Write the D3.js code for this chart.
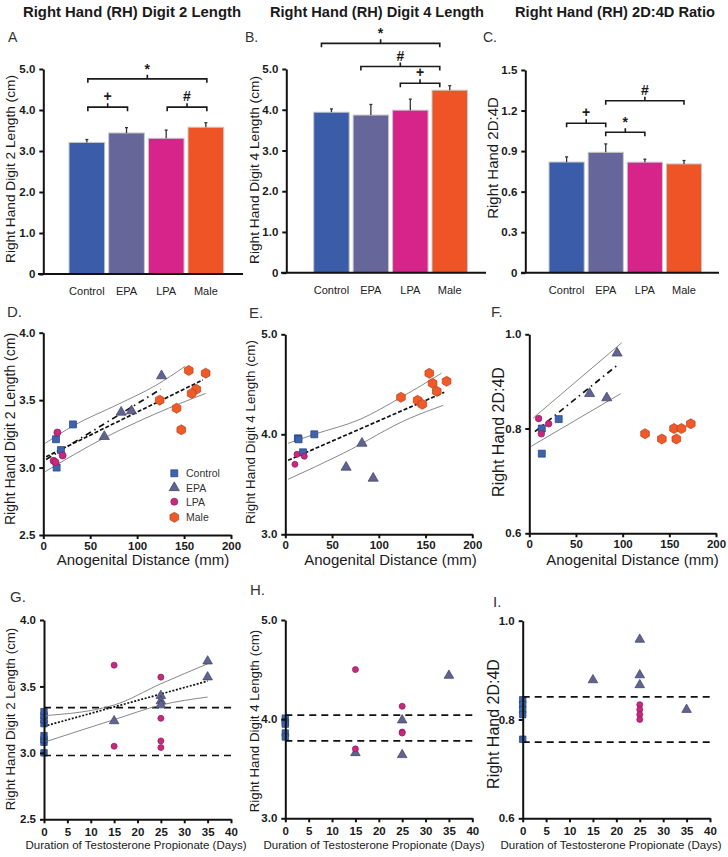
<!DOCTYPE html>
<html><head><meta charset="utf-8">
<script src="https://cdn.jsdelivr.net/npm/d3@7"></script>
<style>body{margin:0;background:#fff}svg{display:block}</style>
</head><body><svg id="c" width="728" height="857"></svg>
<script>
// ---------------- DATA ----------------
const categories = ["Control", "EPA", "LPA", "Male"];
const groupColors = ["#3a5ca9", "#66669a", "#d6248b", "#ee5426"];

// Bar panels (mean, SEM)
const digit2Mean = [3.21, 3.44, 3.31, 3.58];
const digit2Sem  = [0.07, 0.13, 0.20, 0.11];
const digit4Mean = [3.94, 3.87, 3.99, 4.48];
const digit4Sem  = [0.08, 0.26, 0.27, 0.11];
const ratioMean  = [0.819, 0.891, 0.818, 0.805];
const ratioSem   = [0.038, 0.062, 0.022, 0.025];

const digit2Ticks = [0, 1, 2, 3, 4, 5];
const digit4Ticks = [0, 1, 2, 3, 4, 5];
const ratioTicks  = [0, 0.3, 0.6, 0.9, 1.2, 1.5];

// significance brackets (y in data units)
const bracketsA = [
  {from: "Control", to: "Male", label: "*", y: 4.76},
  {from: "Control", to: "EPA", label: "+", y: 4.07},
  {from: "LPA", to: "Male", label: "#", y: 4.07}
];
const bracketsB = [
  {from: "Control", to: "Male", label: "*", y: 5.63},
  {from: "EPA", to: "Male", label: "#", y: 5.06},
  {from: "LPA", to: "Male", label: "+", y: 4.65}
];
const bracketsC = [
  {from: "Control", to: "EPA", label: "+", y: 1.106},
  {from: "EPA", to: "LPA", label: "*", y: 1.039},
  {from: "EPA", to: "Male", label: "#", y: 1.273}
];

// Panel D: AGD (mm) vs digit 2 (cm)
const dControl = [[13.5,3.21],[31.6,3.32],[18.8,3.13],[14.2,3.00]];
const dEPA     = [[126,3.68],[83,3.41],[94,3.42],[65,3.23]];
const dLPA     = [[15,3.26],[20.6,3.09],[11,3.05],[13,3.04]];
const dMale    = [[155,3.72],[173,3.70],[163,3.58],[158,3.55],[124,3.50],[142,3.44],[147,3.28]];
const dFit     = [[3,3.08],[170,3.65]];
const dFitFem  = [[3,3.06],[125,3.58]];
const dUpper   = [[2,3.18],[32,3.31],[80,3.47],[120,3.61],[151,3.75]];
const dLower   = [[2,2.97],[65,3.22],[120,3.40],[173,3.55]];

// Panel E: AGD vs digit 4
const eControl = [[13.5,3.96],[14.2,3.95],[31,4.00],[18.9,3.82]];
const eEPA     = [[82,3.91],[65,3.67],[94,3.56]];
const eLPA     = [[10.3,3.70],[12.5,3.80],[20.3,3.78]];
const eMale    = [[154,4.61],[157.5,4.51],[172.5,4.53],[162,4.43],[123.7,4.37],[141.5,4.34],[146.5,4.30]];
const eFit     = [[3,3.74],[170,4.42]];
const eUpper   = [[3,3.91],[31,4.00],[80,4.15],[124,4.37],[167,4.61]];
const eLower   = [[3,3.55],[62,3.81],[133,4.16],[169,4.29]];

// Panel F: AGD vs 2D:4D
const fControl = [[13.4,0.80],[31.5,0.82],[13.4,0.752]];
const fEPA     = [[94,0.96],[64.6,0.874],[83,0.865]];
const fLPA     = [[10,0.821],[20.7,0.81],[12.9,0.79]];
const fMale    = [[124,0.79],[142,0.78],[155,0.80],[163,0.80],[157.5,0.78],[173,0.81]];
const fFit     = [[6,0.794],[94,0.934]];
const fUpper   = [[4,0.822],[99,0.982]];
const fLower   = [[2,0.766],[98,0.874]];

// Panel G: TP duration (days) vs digit 2
const gControl = [[0,3.00],[0,3.08],[0,3.10],[0,3.13],[0,3.22],[0,3.25],[0,3.28],[0,3.31]];
const gLPA     = [[15,3.66],[15,3.05],[25,3.57],[25,3.26],[25,3.09],[25,3.04]];
const gEPA     = [[15,3.24],[25,3.43],[25,3.39],[25,3.36],[35,3.69],[35,3.57]];
const gFit     = [[0,3.20],[35,3.54]];
const gUpper   = [[0,3.28],[15,3.36],[25,3.52],[35,3.67]];
const gLower   = [[0,3.08],[15,3.25],[25,3.36],[35,3.42]];
const gRefHigh = [[0,3.34],[40,3.34]];
const gRefLow  = [[0,2.98],[40,2.98]];

// Panel H: TP duration vs digit 4
const hControl = [[0,4.01],[0,3.97],[0,3.95],[0,3.86],[0,3.82]];
const hLPA     = [[15,4.50],[15,3.70],[25,4.13],[25,3.87],[25,3.86]];
const hEPA     = [[15,3.66],[25,3.99],[25,3.64],[35,4.44]];
const hRefHigh = [[0,4.04],[40,4.04]];
const hRefLow  = [[0,3.78],[40,3.78]];

// Panel I: TP duration vs 2D:4D
const iControl = [[0,0.84],[0,0.83],[0,0.82],[0,0.81],[0,0.76]];
const iEPA     = [[15,0.88],[25,0.962],[25,0.89],[25,0.87],[35,0.82]];
const iLPA     = [[25,0.83],[25,0.82],[25,0.81],[25,0.80]];
const iRefHigh = [[0,0.846],[40,0.846]];
const iRefLow  = [[0,0.754],[40,0.754]];

const agdTicks = [0, 50, 100, 150, 200];
const dayTicks = [0, 5, 10, 15, 20, 25, 30, 35, 40];

// ---------------- DRAWING ----------------
const FONT = '"Liberation Sans", Arial, Helvetica, sans-serif';
const svg = d3.select("#c");
const fmt = d => d === 0 ? "0" : d3.format(".1f")(d);

function styleAxis(sel, fs) {
  sel.attr("font-family", FONT).attr("font-size", fs).attr("font-weight", "bold");
  sel.select(".domain").attr("stroke", "#111").attr("stroke-width", 2);
  sel.selectAll(".tick line").attr("stroke", "#111").attr("stroke-width", 2);
  sel.selectAll(".tick text").attr("fill", "#1a1a1a");
}

function text(x, y, str, opts = {}) {
  const t = svg.append("text").attr("x", x).attr("y", y).text(str)
    .attr("font-family", FONT).attr("font-size", opts.size || 14)
    .attr("font-weight", opts.weight || "normal").attr("fill", opts.fill || "#1a1a1a")
    .attr("text-anchor", opts.anchor || "start");
  if (opts.len) t.attr("textLength", opts.len).attr("lengthAdjust", "spacingAndGlyphs");
  return t;
}
function vtext(cx, cy, str, size) {
  svg.append("text").attr("transform", `translate(${cx},${cy}) rotate(-90)`)
    .attr("text-anchor", "middle").attr("dominant-baseline", "central")
    .attr("font-family", FONT).attr("font-size", size).attr("fill", "#1a1a1a").text(str);
}

function barPanel(cfg) {
  const y = d3.scaleLinear().domain([0, cfg.ticks[cfg.ticks.length - 1]]).range([cfg.yBot, cfg.yTop]);
  const x = d3.scaleBand().domain(categories).range([cfg.bx0, cfg.bx1]).paddingInner(0.1).paddingOuter(0);
  const g = svg.append("g");
  g.selectAll("rect.bar").data(categories).join("rect").attr("class", "bar")
    .attr("x", c => x(c)).attr("width", x.bandwidth())
    .attr("y", (c, i) => y(cfg.mean[i])).attr("height", (c, i) => y(0) - y(cfg.mean[i]))
    .attr("fill", (c, i) => groupColors[i]).attr("stroke", "#c9c9c9").attr("stroke-width", 1);
  const eb = g.selectAll("g.err").data(categories).join("g").attr("class", "err");
  eb.append("line").attr("x1", c => x(c) + x.bandwidth() / 2).attr("x2", c => x(c) + x.bandwidth() / 2)
    .attr("y1", (c, i) => y(cfg.mean[i])).attr("y2", (c, i) => y(cfg.mean[i] + cfg.sem[i]))
    .attr("stroke", "#333").attr("stroke-width", 1.3);
  eb.append("line").attr("x1", c => x(c) + x.bandwidth() / 2 - 1.5).attr("x2", c => x(c) + x.bandwidth() / 2 + 1.5)
    .attr("y1", (c, i) => y(cfg.mean[i] + cfg.sem[i])).attr("y2", (c, i) => y(cfg.mean[i] + cfg.sem[i]))
    .attr("stroke", "#333").attr("stroke-width", 1.3);
  const ya = g.append("g").attr("transform", `translate(${cfg.ax},0)`)
    .call(d3.axisLeft(y).tickValues(cfg.ticks).tickSize(4).tickSizeOuter(0).tickPadding(4).tickFormat(fmt));
  styleAxis(ya, 11.5);
  g.append("line").attr("x1", cfg.xl0).attr("x2", cfg.xl1).attr("y1", y(0)).attr("y2", y(0))
    .attr("stroke", "#111").attr("stroke-width", 2);
  g.selectAll("text.cat").data(categories).join("text").attr("class", "cat")
    .attr("x", c => x(c) + x.bandwidth() / 2).attr("y", cfg.yBot + 21).attr("text-anchor", "middle")
    .attr("font-family", FONT).attr("font-size", 11).attr("fill", "#222").text(c => c);
  cfg.brackets.forEach(b => {
    const xa = x(b.from) + x.bandwidth() / 2 + cfg.shift;
    const xb = x(b.to) + x.bandwidth() / 2 + cfg.shift;
    const yy = y(b.y), xm = (xa + xb) / 2;
    g.append("path").attr("d", `M${xa},${yy + cfg.drop}V${yy}H${xb}V${yy + cfg.drop}M${xm},${yy}V${yy - 4}`)
      .attr("fill", "none").attr("stroke", "#1a1a1a").attr("stroke-width", 1.6);
    g.append("text").attr("x", xm).attr("y", yy - 6 + (b.label === "*" ? 1 : 0)).attr("text-anchor", "middle")
      .attr("font-family", FONT).attr("font-weight", "bold").attr("font-size", 14).attr("fill", "#1a1a1a").text(b.label);
  });
}

barPanel({mean: digit2Mean, sem: digit2Sem, ticks: digit2Ticks, yBot: 274, yTop: 69, bx0: 69, bx1: 223.7,
  ax: 43.3, xl0: 38, xl1: 243, brackets: bracketsA, shift: 1, drop: 4});
barPanel({mean: digit4Mean, sem: digit4Sem, ticks: digit4Ticks, yBot: 272.7, yTop: 69, bx0: 313.7, bx1: 467.5,
  ax: 286.3, xl0: 281, xl1: 486, brackets: bracketsB, shift: -10, drop: 4});
barPanel({mean: ratioMean, sem: ratioSem, ticks: ratioTicks, yBot: 272.7, yTop: 70, bx0: 549, bx1: 701.6,
  ax: 525.3, xl0: 521, xl1: 719, brackets: bracketsC, shift: 0, drop: 4});

const hexPath = r => {
  const p = d3.range(6).map(k => { const a = Math.PI / 6 + k * Math.PI / 3; return [r * Math.cos(a), r * Math.sin(a)]; });
  return "M" + p.map(q => q.join(",")).join("L") + "Z";
};
const markerStyles = {
  square:   {d: s => d3.symbol(d3.symbolSquare, s * s)(), fill: "#3e63ad", stroke: "#22407c"},
  triangle: {d: s => d3.symbol(d3.symbolTriangle, s * s * 0.55)(), fill: "#62648f", stroke: "#3c3e66"},
  circle:   {d: s => d3.symbol(d3.symbolCircle, s * s * 0.8)(), fill: "#c8287f", stroke: "#8c1c5a"},
  hex:      {d: s => hexPath(s / 2), fill: "#ef5a28", stroke: "#b5421c"}
};
const lineStyles = {
  fit:     {stroke: "#111", width: 1.7, dash: "4,2"},
  dashdot: {stroke: "#111", width: 1.7, dash: "6,4,1.5,4"},
  dotted:  {stroke: "#111", width: 1.7, dash: "2,1.6"},
  band:    {stroke: "#7a7a7a", width: 0.9, dash: null},
  ref:     {stroke: "#111", width: 1.7, dash: "7,5"}
};

function scatterPanel(cfg) {
  const x = d3.scaleLinear().domain(cfg.xDomain).range(cfg.xRange);
  const y = d3.scaleLinear().domain(cfg.yDomain).range(cfg.yRange);
  const g = svg.append("g");
  const line = d3.line().x(d => x(d[0])).y(d => y(d[1])).curve(d3.curveMonotoneX);
  const drawPts = grp => {
    const st = markerStyles[grp.shape];
    g.append("g").selectAll("path").data(grp.pts).join("path")
      .attr("transform", d => `translate(${x(d[0])},${y(d[1])})`)
      .attr("d", st.d(grp.size)).attr("fill", st.fill).attr("stroke", st.stroke).attr("stroke-width", 0.7);
  };
  (cfg.under || []).forEach(drawPts);
  cfg.lines.forEach(l => {
    const s = lineStyles[l.style];
    g.append("path").attr("d", line(l.pts)).attr("fill", "none").attr("stroke", s.stroke)
      .attr("stroke-width", s.width).attr("stroke-dasharray", s.dash);
  });
  cfg.groups.forEach(drawPts);
  const ya = g.append("g").attr("transform", `translate(${cfg.xRange[0]},0)`)
    .call(d3.axisLeft(y).tickValues(cfg.yTicks).tickSize(4).tickSizeOuter(0).tickPadding(4).tickFormat(fmt));
  styleAxis(ya, 11.5);
  const xa = g.append("g").attr("transform", `translate(0,${cfg.yRange[0]})`)
    .call(d3.axisBottom(x).tickValues(cfg.xTicks).tickSize(4).tickSizeOuter(0).tickPadding(cfg.xPad || 3));
  styleAxis(xa, 11.5);
}

scatterPanel({xDomain: [0, 200], xRange: [43.3, 231], yDomain: [2.5, 4.0], yRange: [535, 332.7],
  xTicks: agdTicks, yTicks: [2.5, 3.0, 3.5, 4.0],
  lines: [{pts: dUpper, style: "band"}, {pts: dLower, style: "band"}, {pts: dFit, style: "fit"}, {pts: dFitFem, style: "dashdot"}],
  groups: [{pts: dControl, shape: "square", size: 7}, {pts: dEPA, shape: "triangle", size: 9},
           {pts: dLPA, shape: "circle", size: 7}, {pts: dMale, shape: "hex", size: 10}]});
scatterPanel({xDomain: [0, 200], xRange: [285.3, 472.3], yDomain: [3.0, 5.0], yRange: [534.3, 334.3],
  xTicks: agdTicks, yTicks: [3.0, 4.0, 5.0],
  lines: [{pts: eUpper, style: "band"}, {pts: eLower, style: "band"}, {pts: eFit, style: "fit"}],
  groups: [{pts: eControl, shape: "square", size: 7}, {pts: eEPA, shape: "triangle", size: 9},
           {pts: eLPA, shape: "circle", size: 6}, {pts: eMale, shape: "hex", size: 10}]});
scatterPanel({xDomain: [0, 200], xRange: [529.3, 716], yDomain: [0.6, 0.8, 1.0], yRange: [533.3, 428.5, 334.3],
  xTicks: agdTicks, yTicks: [0.6, 0.8, 1.0],
  lines: [{pts: fUpper, style: "band"}, {pts: fLower, style: "band"}, {pts: fFit, style: "dashdot"}],
  groups: [{pts: fControl, shape: "square", size: 7}, {pts: fEPA, shape: "triangle", size: 9},
           {pts: fLPA, shape: "circle", size: 6.5}, {pts: fMale, shape: "hex", size: 10}]});
scatterPanel({xDomain: [0, 40], xRange: [44, 231], yDomain: [2.5, 4.0], yRange: [819.3, 620],
  xTicks: dayTicks, yTicks: [2.5, 3.0, 3.5, 4.0], xPad: 5,
  under: [{pts: gControl, shape: "square", size: 6.5}],
  lines: [{pts: gRefHigh, style: "ref"}, {pts: gRefLow, style: "ref"}, {pts: gUpper, style: "band"},
          {pts: gLower, style: "band"}, {pts: gFit, style: "dotted"}],
  groups: [{pts: gLPA, shape: "circle", size: 6}, {pts: gEPA, shape: "triangle", size: 8.5}]});
scatterPanel({xDomain: [0, 40], xRange: [285.3, 472.3], yDomain: [3.0, 5.0], yRange: [818.3, 620],
  xTicks: dayTicks, yTicks: [3.0, 4.0, 5.0], xPad: 5,
  under: [{pts: hControl, shape: "square", size: 6.5}],
  lines: [{pts: hRefHigh, style: "ref"}, {pts: hRefLow, style: "ref"}],
  groups: [{pts: hEPA, shape: "triangle", size: 8.5}, {pts: hLPA, shape: "circle", size: 6}]});
scatterPanel({xDomain: [0, 40], xRange: [522.7, 710], yDomain: [0.6, 1.0], yRange: [818.3, 620.7],
  xTicks: dayTicks, yTicks: [0.6, 0.8, 1.0], xPad: 5,
  under: [{pts: iControl, shape: "square", size: 6.5}],
  lines: [{pts: iRefHigh, style: "ref"}, {pts: iRefLow, style: "ref"}],
  groups: [{pts: iEPA, shape: "triangle", size: 8.5}, {pts: iLPA, shape: "circle", size: 6}]});

// Legend (panel D)
const legendItems = [["Control", "square", 7], ["EPA", "triangle", 9], ["LPA", "circle", 7], ["Male", "hex", 10]];
const legendY = [473.3, 487.7, 501.7, 517.3];
legendItems.forEach((it, i) => {
  const st = markerStyles[it[1]];
  svg.append("path").attr("transform", `translate(174.3,${legendY[i]})`).attr("d", st.d(it[2]))
    .attr("fill", st.fill).attr("stroke", st.stroke).attr("stroke-width", 0.7);
  text(186, legendY[i] + 4, it[0], {size: 10.5, fill: "#333"});
});

// Titles
text(132, 17, "Right Hand (RH) Digit 2 Length", {size: 15, weight: "bold", anchor: "middle", len: 218});
text(377, 17, "Right Hand (RH) Digit 4 Length", {size: 15, weight: "bold", anchor: "middle", len: 214});
text(615, 17, "Right Hand (RH) 2D:4D Ratio", {size: 15, weight: "bold", anchor: "middle", len: 200});

// Panel letters
text(8, 42, "A", {size: 14, fill: "#333"});
text(245, 42, "B.", {size: 14, fill: "#333"});
text(483, 42, "C.", {size: 14, fill: "#333"});
text(7, 317, "D.", {size: 15, fill: "#333"});
text(249, 318, "E.", {size: 15, fill: "#333"});
text(491, 317, "F.", {size: 15, fill: "#333"});
text(10, 602, "G.", {size: 15, fill: "#333"});
text(250, 595, "H.", {size: 15, fill: "#333"});
text(493, 607, "I.", {size: 15, fill: "#333"});

// Y-axis labels
vtext(10, 169, "Right Hand Digit 2 Length (cm)", 13.7);
vtext(254, 170, "Right Hand Digit 4 Length (cm)", 13.7);
vtext(492, 158, "Right Hand 2D:4D", 15);
vtext(9.5, 429, "Right Hand Digit 2 Length (cm)", 14);
vtext(250.5, 432, "Right Hand Digit 4 Length (cm)", 13.4);
vtext(498.5, 432, "Right Hand 2D:4D", 16);
vtext(10, 719, "Right Hand Digit 2 Length (cm)", 13.3);
vtext(254, 721, "Right Hand Digit 4 Length (cm)", 13.3);
vtext(493.5, 724, "Right Hand 2D:4D", 16);

// X-axis labels
text(143, 565, "Anogenital Distance (mm)", {size: 15, anchor: "middle"});
text(390.5, 565, "Anogenital Distance (mm)", {size: 15, anchor: "middle"});
text(632.5, 565, "Anogenital Distance (mm)", {size: 15, anchor: "middle"});
text(136, 849, "Duration of Testosterone Propionate (Days)", {size: 11.5, anchor: "middle"});
text(374, 849, "Duration of Testosterone Propionate (Days)", {size: 11.5, anchor: "middle"});
text(611, 849, "Duration of Testosterone Propionate (Days)", {size: 11.5, anchor: "middle"});
</script>
</body></html>
